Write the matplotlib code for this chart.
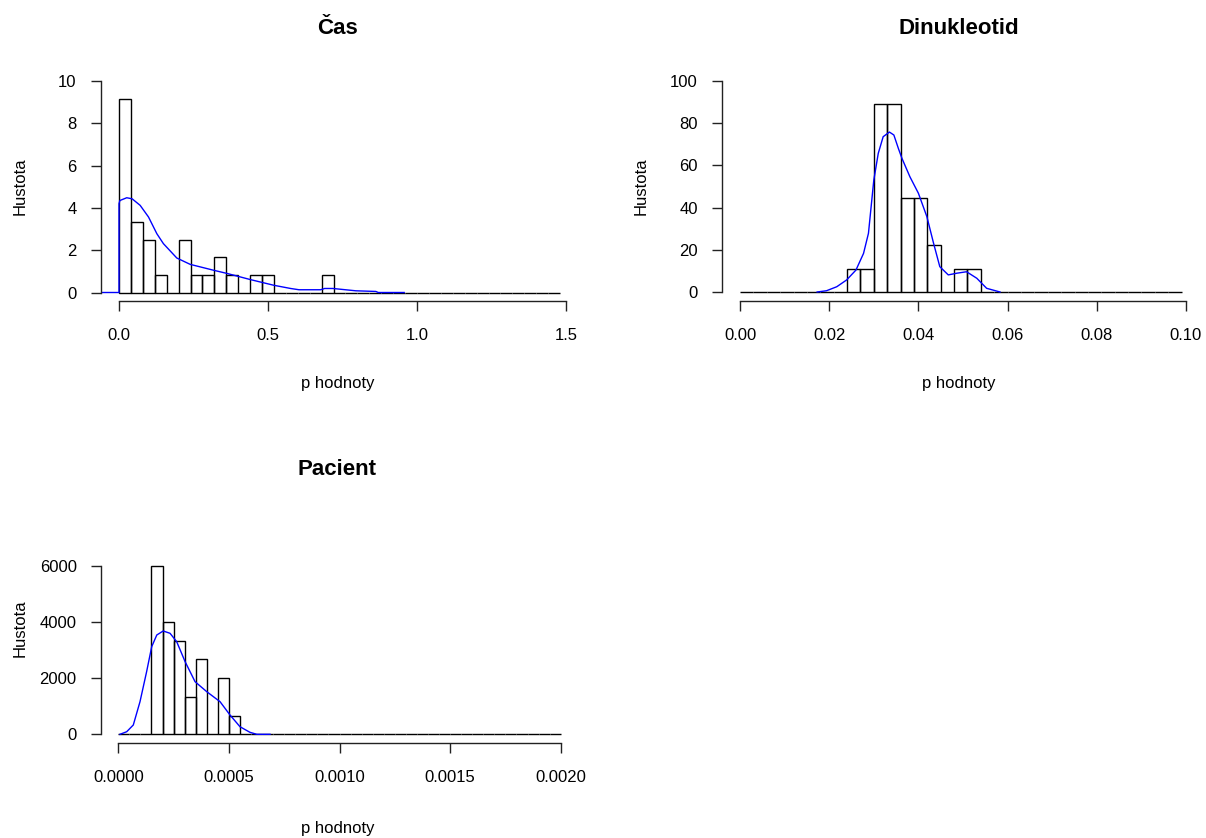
import numpy as np
import matplotlib
matplotlib.use("Agg")
import matplotlib.pyplot as plt

plt.rcParams['font.family'] = ['Liberation Sans', 'DejaVu Sans']

# histogram counts (n = 30 p-values per panel)
cas_width = 0.04
cas_counts = [11, 4, 3, 1, 0, 3, 1, 1, 2, 1, 0, 1, 1, 0, 0, 0, 0, 1] + [0] * 19
dinu_width = 0.003
dinu_counts = [0] * 8 + [1, 1, 8, 8, 4, 4, 2, 0, 1, 1] + [0] * 15
pac_width = 0.00005
pac_counts = [0, 0, 0, 9, 6, 5, 2, 4, 0, 3, 1] + [0] * 29

# density curves
cas_kde_x = [-0.08, 0.0, 0.0, 0.003, 0.026, 0.044, 0.071, 0.099, 0.127, 0.149, 0.194,
             0.239, 0.318, 0.363, 0.441, 0.52, 0.576, 0.604, 0.677, 0.69, 0.718,
             0.795, 0.862, 0.87, 0.957]
cas_kde_y = [0, 0, 4.2, 4.35, 4.48, 4.43, 4.12, 3.57, 2.78, 2.31, 1.63,
             1.33, 1.05, 0.9, 0.61, 0.34, 0.19, 0.13, 0.13, 0.19, 0.19,
             0.08, 0.05, 0.0, 0.0]
dinu_kde_x = [0.0173, 0.0194, 0.0217, 0.0239, 0.026, 0.0277, 0.0288, 0.030, 0.031,
              0.0321, 0.0335, 0.0345, 0.0355, 0.0363, 0.0381, 0.040, 0.0419, 0.0434,
              0.0448, 0.0467, 0.0486, 0.0508, 0.0531, 0.0553, 0.0583]
dinu_kde_y = [0, 0.6, 2.5, 5.7, 10.4, 18.3, 27.8, 53, 65.7,
              73.6, 75.8, 74.4, 68.1, 63.4, 54.6, 46.8, 35.7, 23.1,
              12, 8.1, 8.9, 9.6, 6.5, 1.75, 0]
pac_kde_x = [0.0000077, 0.000038, 0.0000678, 0.0000981, 0.000128, 0.000151, 0.000174,
             0.000203, 0.000234, 0.000264, 0.000302, 0.000347, 0.0004, 0.00046,
             0.000505, 0.00055, 0.000595, 0.000626, 0.000686]
pac_kde_y = [0, 92, 331, 1159, 2225, 3114, 3530, 3672, 3590, 3292, 2581, 1870,
             1514, 1159, 686, 270, 71, 0, 0]

W, H = 1206, 838
fig = plt.figure(figsize=(W / 100, H / 100), dpi=100)


def panel(box, x0px, x1px, xv, y0px, y1px, yv, counts, width, kx, ky,
          xticks, xlabels, yticks, title, title_y, lab_y, ylab_x):
    left, right, top, bottom = box
    ax = fig.add_axes([left / W, 1 - bottom / H, (right - left) / W, (bottom - top) / H])
    sx = xv / (x1px - x0px)
    sy = yv / (y0px - y1px)
    ax.set_xlim((left - x0px) * sx, (right - x0px) * sx)
    ax.set_ylim((y0px - bottom) * sy, (y0px - top) * sy)

    dens = np.array(counts) / (sum(counts) * width)
    edges = np.arange(len(counts)) * width
    ax.bar(edges, dens, width=width, align='edge', fill=False,
           edgecolor='black', linewidth=1.0)
    ax.plot(kx, ky, color='#0000ff', linewidth=1.0)

    for s in ['top', 'right']:
        ax.spines[s].set_visible(False)
    ax.spines['left'].set_bounds(yticks[0], yticks[-1])
    ax.spines['bottom'].set_bounds(xticks[0], xticks[-1])
    for s in ['left', 'bottom']:
        ax.spines[s].set_linewidth(1.0)
        ax.spines[s].set_color('#222222')
    ax.set_xticks(xticks)
    ax.set_xticklabels(xlabels)
    ax.set_yticks(yticks)
    ax.set_yticklabels([str(v) for v in yticks])
    ax.tick_params(axis='both', direction='out', length=7.5, width=1.0,
                   color='#222222', labelsize=12)
    ax.tick_params(axis='x', pad=12)
    ax.tick_params(axis='y', pad=10)

    cx = (left + right) / 2 - 4
    fig.text(cx / W, 1 - title_y / H, title, ha='center', va='center',
             fontsize=16, fontweight='bold')
    fig.text(cx / W, 1 - lab_y / H, 'p hodnoty', ha='center', va='center', fontsize=12)
    fig.text(ylab_x / W, 1 - (top + bottom) / 2 / H, 'Hustota', ha='center', va='center',
             rotation=90, fontsize=12)
    return ax


panel((101, 582, 72, 301), 119, 566, 1.5, 292.5, 81, 10,
      cas_counts, cas_width, cas_kde_x, cas_kde_y,
      [0, 0.5, 1.0, 1.5], ['0.0', '0.5', '1.0', '1.5'],
      [0, 2, 4, 6, 8, 10], 'Čas', 28, 383, 20)

panel((722, 1203, 72, 301), 740, 1186, 0.1, 292, 81, 100,
      dinu_counts, dinu_width, dinu_kde_x, dinu_kde_y,
      [0, 0.02, 0.04, 0.06, 0.08, 0.10], ['0.00', '0.02', '0.04', '0.06', '0.08', '0.10'],
      [0, 20, 40, 60, 80, 100], 'Dinukleotid', 28, 383, 641)

panel((101, 582, 514, 743), 118.3, 560.7, 0.002, 734.3, 565.5, 6000,
      pac_counts, pac_width, pac_kde_x, pac_kde_y,
      [0, 0.0005, 0.001, 0.0015, 0.002], ['0.0000', '0.0005', '0.0010', '0.0015', '0.0020'],
      [0, 2000, 4000, 6000], 'Pacient', 469, 828, 20)

fig.savefig('out.png', dpi=100)
